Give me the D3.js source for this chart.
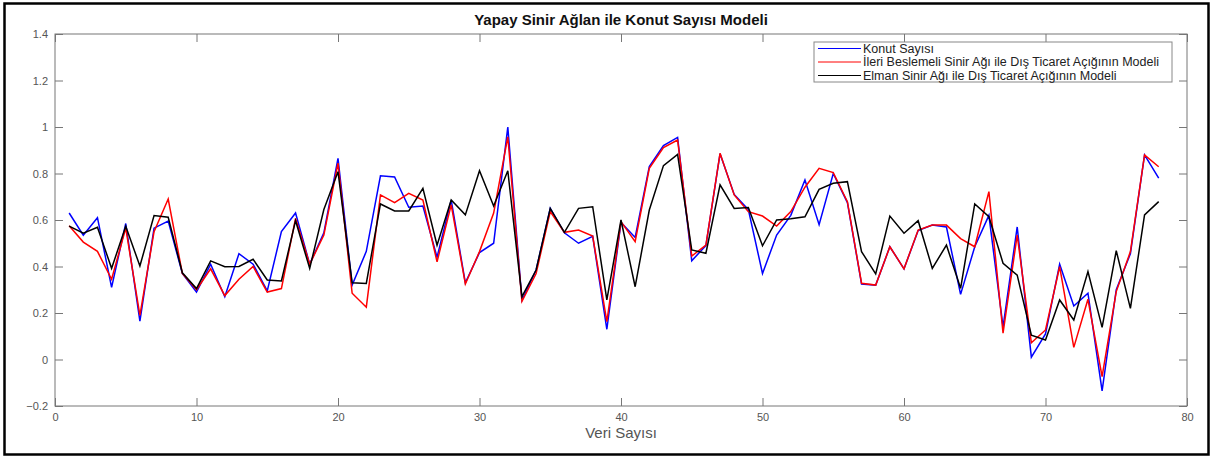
<!DOCTYPE html>
<html>
<head>
<meta charset="utf-8">
<script src="https://cdn.jsdelivr.net/npm/d3@7/dist/d3.min.js"></script>
<style>
  body { margin: 0; background: #fff; }
  svg { font-family: "Liberation Sans", Arial, sans-serif; }
  .axis text { fill: #555; font-size: 11px; }
  .axis line { stroke: #777; }
  .axis path { display: none; }
  .line { fill: none; stroke-width: 1.5; }
</style>
</head>
<body>
<svg id="chart" width="1214" height="460"></svg>
<script>
var veri = d3.range(1, 79);

var konutSayisi = [
    0.63, 0.535, 0.61, 0.31, 0.585, 0.165, 0.565, 0.595, 0.37, 0.29,
    0.41, 0.27, 0.455, 0.41, 0.295, 0.55, 0.63, 0.41, 0.545, 0.865,
    0.32, 0.465, 0.79, 0.785, 0.655, 0.66, 0.44, 0.685, 0.33, 0.46,
    0.50, 1.0, 0.255, 0.385, 0.65, 0.545, 0.50, 0.53, 0.13, 0.59,
    0.525, 0.83, 0.92, 0.955, 0.425, 0.49, 0.885, 0.71, 0.645, 0.37,
    0.535, 0.62, 0.772, 0.58, 0.80, 0.675, 0.325, 0.32, 0.485, 0.39,
    0.555, 0.578, 0.57, 0.28, 0.485, 0.62, 0.14, 0.57, 0.01, 0.11,
    0.41, 0.23, 0.285, -0.135, 0.30, 0.455, 0.88, 0.78
];

var ileriBeslemeli = [
    0.575, 0.505, 0.465, 0.345, 0.565, 0.19, 0.55, 0.69, 0.37, 0.30,
    0.39, 0.275, 0.345, 0.40, 0.29, 0.305, 0.607, 0.41, 0.535, 0.845,
    0.285, 0.225, 0.708, 0.675, 0.715, 0.686, 0.42, 0.665, 0.325, 0.464,
    0.63, 0.958, 0.25, 0.37, 0.636, 0.547, 0.557, 0.531, 0.163, 0.593,
    0.507, 0.822, 0.911, 0.944, 0.445, 0.492, 0.887, 0.708, 0.636, 0.617,
    0.574, 0.636, 0.741, 0.822, 0.804, 0.679, 0.328, 0.32, 0.485, 0.39,
    0.557, 0.578, 0.578, 0.52, 0.485, 0.722, 0.113, 0.535, 0.072, 0.127,
    0.399, 0.052, 0.259, -0.074, 0.292, 0.464, 0.88, 0.829
];

var elmanSinir = [
    0.574, 0.543, 0.569, 0.392, 0.573, 0.402, 0.619, 0.612, 0.373, 0.305,
    0.424, 0.399, 0.40, 0.431, 0.342, 0.338, 0.597, 0.392, 0.645, 0.808,
    0.33, 0.327, 0.669, 0.639, 0.639, 0.736, 0.492, 0.686, 0.622, 0.812,
    0.66, 0.812, 0.27, 0.385, 0.65, 0.547, 0.65, 0.657, 0.256, 0.60,
    0.313, 0.643, 0.834, 0.882, 0.471, 0.457, 0.751, 0.65, 0.654, 0.489,
    0.60, 0.605, 0.614, 0.732, 0.758, 0.765, 0.464, 0.368, 0.617, 0.543,
    0.597, 0.392, 0.492, 0.306, 0.669, 0.614, 0.414, 0.363, 0.105, 0.084,
    0.256, 0.17, 0.378, 0.138, 0.468, 0.22, 0.622, 0.679
];

var xTicks = [0, 10, 20, 30, 40, 50, 60, 70, 80];
var yTicks = [-0.2, 0, 0.2, 0.4, 0.6, 0.8, 1, 1.2, 1.4];

var seriler = [
    {name: "Konut Sayısı", values: konutSayisi, color: "#0000ff"},
    {name: "İleri Beslemeli Sinir Ağı ile Dış Ticaret Açığının Modeli", values: ileriBeslemeli, color: "#ff0000"},
    {name: "Elman Sinir Ağı ile Dış Ticaret Açığının Modeli", values: elmanSinir, color: "#000000"}
];

var margin = {top: 34, right: 27, bottom: 54, left: 55};
var width = 1214 - margin.left - margin.right,
    height = 460 - margin.top - margin.bottom;

var svg = d3.select("#chart");

// outer frame
svg.append("rect")
    .attr("x", 4.5).attr("y", 3.5)
    .attr("width", 1204).attr("height", 451)
    .attr("fill", "none")
    .attr("stroke", "#000")
    .attr("stroke-width", 2.5);

var g = svg.append("g")
    .attr("transform", "translate(" + margin.left + "," + margin.top + ")");

var xScale = d3.scaleLinear().domain([0, 80]).range([0, width]);
var yScale = d3.scaleLinear().domain([-0.2, 1.4]).range([height, 0]);

g.append("g")
    .attr("class", "axis")
    .attr("transform", "translate(0," + height + ")")
    .call(d3.axisBottom(xScale).tickValues(xTicks).tickSizeInner(-8).tickSizeOuter(0).tickPadding(7));

g.append("g")
    .attr("class", "axis")
    .call(d3.axisTop(xScale).tickValues(xTicks).tickSizeInner(-8).tickSizeOuter(0).tickFormat(""));

g.append("g")
    .attr("class", "axis")
    .call(d3.axisLeft(yScale).tickValues(yTicks).tickSizeInner(-8).tickSizeOuter(0).tickPadding(7)
        .tickFormat(function(d) { return d3.format("")(+d.toFixed(1)); }));

g.append("g")
    .attr("class", "axis")
    .attr("transform", "translate(" + width + ",0)")
    .call(d3.axisRight(yScale).tickValues(yTicks).tickSizeInner(-8).tickSizeOuter(0).tickFormat(""));

// box
g.append("rect")
    .attr("width", width).attr("height", height)
    .attr("fill", "none")
    .attr("stroke", "#777")
    .attr("stroke-width", 1);

var line = d3.line()
    .x(function(d, i) { return xScale(veri[i]); })
    .y(function(d) { return yScale(d); });

seriler.forEach(function(s) {
    g.append("path")
        .datum(s.values)
        .attr("class", "line")
        .attr("d", line)
        .attr("stroke", s.color);
});

// title
svg.append("text")
    .attr("x", margin.left + width / 2)
    .attr("y", 25)
    .attr("text-anchor", "middle")
    .attr("font-size", "15px")
    .attr("font-weight", "bold")
    .attr("fill", "#111")
    .text("Yapay Sinir Ağlan ile Konut Sayısı Modeli");

// x label
svg.append("text")
    .attr("x", margin.left + width / 2)
    .attr("y", 438)
    .attr("text-anchor", "middle")
    .attr("font-size", "15px")
    .attr("fill", "#555")
    .text("Veri Sayısı");

// legend
var legend = svg.append("g").attr("transform", "translate(814,42)");

legend.append("rect")
    .attr("width", 358).attr("height", 40)
    .attr("fill", "#fff")
    .attr("stroke", "#888");

seriler.forEach(function(s, i) {
    var yy = 6.5 + i * 13.5;
    legend.append("line")
        .attr("x1", 4).attr("x2", 47)
        .attr("y1", yy).attr("y2", yy)
        .attr("stroke", s.color)
        .attr("stroke-width", 1);
    legend.append("text")
        .attr("x", 49)
        .attr("y", yy + 4)
        .attr("font-size", "12.5px")
        .attr("fill", "#222")
        .text(s.name);
});
</script>
</body>
</html>
